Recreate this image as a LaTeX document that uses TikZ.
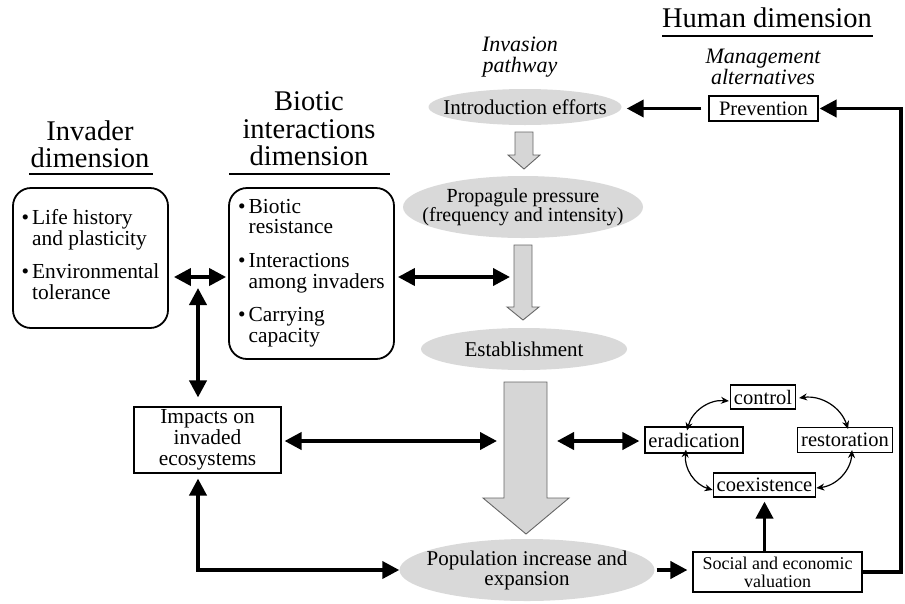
\documentclass[tikz,border=0pt]{standalone}
\usepackage{fontspec}
\setmainfont{Liberation Serif}
\usetikzlibrary{arrows.meta,positioning,calc}
\definecolor{stagefill}{gray}{0.85}
\definecolor{flowfill}{gray}{0.84}
\definecolor{flowedge}{gray}{0.40}
\tikzset{
  dimtitle/.style={align=center,inner sep=0pt,font=\fontsize{28.5}{27.5}\selectfont},
  subtitle/.style={align=center,inner sep=0pt,font=\fontsize{22}{21}\selectfont\itshape},
  rule/.style={line width=1.3pt},
  dimbox/.style={draw,line width=1.8pt,rounded corners=18pt,font=\fontsize{21.4}{20.5}\selectfont},
  stage/.style={inner sep=0pt,align=center,font=\fontsize{21}{20}\selectfont,
    path picture={\fill[stagefill] let \p1=(path picture bounding box.north east),
      \p2=(path picture bounding box.center) in (\p2) ellipse [x radius=\x1-\x2, y radius=\y1-\y2];}},
  plainbox/.style={draw,line width=1.1pt,inner sep=0pt,align=center,font=\fontsize{21.4}{21}\selectfont},
  mgmt/.style={draw,line width=1.1pt,inner xsep=3.5pt,inner ysep=0pt,minimum height=24pt,font=\fontsize{20.5}{20.5}\selectfont},
  flow/.style={fill=flowfill,draw=flowedge,line width=0.9pt},
  arr/.style={-{Triangle[length=17pt,width=17pt]},line width=3.8pt},
  darr/.style={{Triangle[length=17pt,width=17pt]}-{Triangle[length=17pt,width=17pt]},line width=3.8pt},
  carr/.style={{Stealth[length=8pt,width=7pt]}-{Stealth[length=8pt,width=7pt]},line width=1.2pt}
}

\begin{document}
\begin{tikzpicture}[x=1pt,y=-1pt]
\useasboundingbox (0,0) rectangle (905,603);

% dimension titles
\node[dimtitle,anchor=south] (invtitle) at (90,168) {Invader\\dimension};
\draw[rule] (29,174) -- (153,174);
\node[dimtitle,anchor=south] (biotitle) at (309,166) {Biotic\\interactions\\dimension};
\draw[rule] (229,174) -- (390,174);
\node[dimtitle,anchor=base] (humtitle) at (767,27) {Human dimension};
\draw[rule] (662,36) -- (873,36);
\node[subtitle] (pathway) at (520,57) {Invasion\\pathway};
\node[subtitle,anchor=south] (alternatives) at (763,85) {Management\\alternatives};

% dimension boxes
\node[dimbox,minimum width=155pt,minimum height=140pt] (invader) at (90.5,258)
  {\begin{tabular}{@{}l@{\hspace{3pt}}l@{}}\textbullet & Life history\\ & and plasticity\\[12pt]
   \textbullet & Environmental\\ & tolerance\end{tabular}};
\node[dimbox,minimum width=165pt,minimum height=171pt] (biotic) at (311.5,273.5)
  {\begin{tabular}{@{}l@{\hspace{3pt}}l@{}}\textbullet & Biotic\\ & resistance\\[13pt]
   \textbullet & Interactions\\ & among invaders\\[13pt]
   \textbullet & Carrying\\ & capacity\end{tabular}};
\node[plainbox,minimum width=147pt,minimum height=66pt] (impacts) at (207.5,440) {Impacts on\\invaded\\ecosystems};

% invasion pathway
\node[stage,minimum width=193pt,minimum height=36pt] (intro) at (525,107) {Introduction efforts};
\node[stage,minimum width=240pt,minimum height=62pt,font=\fontsize{20}{18}\selectfont] (propagule) at (523,207) {Propagule pressure\\(frequency and intensity)};
\node[stage,minimum width=206pt,minimum height=42pt] (establish) at (524,349) {Establishment};
\node[stage,minimum width=255pt,minimum height=62pt] (population) at (527,570) {Population increase and\\expansion};
\draw[flow] (515,132) -- (533,132) -- (533,155) -- (540,155) -- (524,169) -- (508,155) -- (515,155) -- cycle;
\draw[flow] (514,245) -- (532,245) -- (532,307) -- (539,307) -- (523,320) -- (507,307) -- (514,307) -- cycle;
\draw[flow] (504,382) -- (547,382) -- (547,498) -- (569,498) -- (526,534) -- (483,498) -- (504,498) -- cycle;

% management alternatives
\node[mgmt,minimum width=109pt,minimum height=25pt] (prevention) at (763.5,108.5) {Prevention};
\node[mgmt] (control) at (763,397) {control};
\node[mgmt,minimum height=26pt] (eradication) at (694,440) {eradication};
\node[mgmt,minimum height=25pt] (restoration) at (845,440) {restoration};
\node[mgmt] (coexist) at (764.5,485) {coexistence};
\node[plainbox,minimum width=169pt,minimum height=40pt,font=\fontsize{18}{18}\selectfont] (social) at (777.5,572) {Social and economic\\valuation};

% free ends of connectors
\coordinate (midrow) at (198,277);
\coordinate (invjoint) at (198,288);
\coordinate (estin) at (510,277);
\coordinate (bigl) at (497,441);
\coordinate (bigr) at (557,441);
\coordinate (rightrail) at (901,0);

% connectors
\draw[darr,shorten <=5pt,shorten >=2pt] (invader.east |- midrow) -- (biotic.west |- midrow);
\draw[darr,shorten >=9pt] (invjoint) -- (invjoint |- impacts.north);
\draw[darr,shorten <=3pt] (biotic.east |- estin) -- (estin);
\draw[darr,shorten <=3pt] (impacts.east |- bigl) -- (bigl);
\draw[darr,shorten >=5pt] (bigr) -- (eradication.west |- bigr);
\draw[darr,shorten <=5pt] (invjoint |- impacts.south) |- (population.west);
\draw[arr,shorten <=2pt,shorten >=5pt] (population.east) -- (population.east -| social.west);
\draw[arr,shorten >=4pt] (coexist.south |- social.north) -- (coexist.south);
\draw[arr,shorten >=1pt] (social.east) -- (social.east -| rightrail) |- (prevention.east);
\draw[arr,shorten <=7pt,shorten >=5pt] (prevention.west) -- (prevention.west -| intro.east);
\draw[carr] ([shift={(-1,4)}]control.west) to[bend right=40] ([xshift=-7pt,yshift=-4pt]eradication.north);
\draw[carr] ([shift={(3,1)}]control.east) to[bend left=40] ([xshift=3pt,yshift=-2pt]restoration.north);
\draw[carr] ([xshift=-8pt,yshift=4pt]eradication.south) to[bend right=40] ([yshift=-5pt]coexist.west);
\draw[carr] ([xshift=7pt,yshift=3pt]restoration.south) to[bend left=40] ([yshift=-3pt]coexist.east);
\end{tikzpicture}
\end{document}
